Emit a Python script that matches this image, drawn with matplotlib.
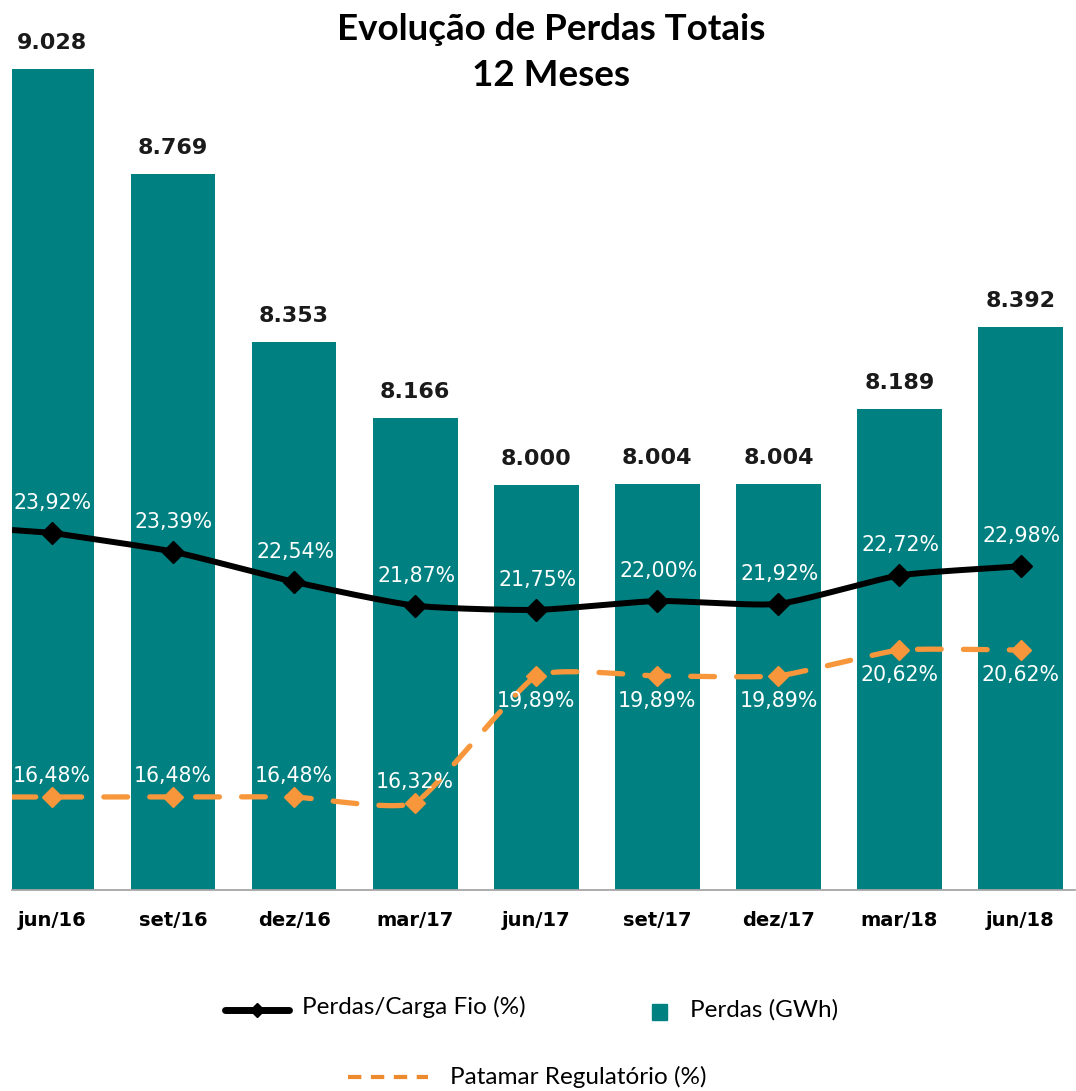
import numpy as np
import matplotlib
matplotlib.use('Agg')
import matplotlib.pyplot as plt
from matplotlib.lines import Line2D
from matplotlib.patches import Rectangle

# data
meses = ['jun/16', 'set/16', 'dez/16', 'mar/17', 'jun/17', 'set/17', 'dez/17', 'mar/18', 'jun/18']
perdas_gwh = [9028, 8769, 8353, 8166, 8000, 8004, 8004, 8189, 8392]
perdas_carga = [23.92, 23.39, 22.54, 21.87, 21.75, 22.00, 21.92, 22.72, 22.98]
patamar = [16.48, 16.48, 16.48, 16.32, 19.89, 19.89, 19.89, 20.62, 20.62]

TEAL = '#008080'
ORANGE = '#F7963A'
W, H = 1076, 1091


def smooth_line(xs, ys, c=0.6, n=24):
    # cardinal spline through the points (a softer Excel-like smoothed line)
    xs = np.asarray(xs, float)
    ys = np.asarray(ys, float)
    px = np.concatenate([[2 * xs[0] - xs[1]], xs, [2 * xs[-1] - xs[-2]]])
    py = np.concatenate([[2 * ys[0] - ys[1]], ys, [2 * ys[-1] - ys[-2]]])
    t = np.linspace(0, 1, n, endpoint=False)
    h00 = 2 * t ** 3 - 3 * t ** 2 + 1
    h10 = t ** 3 - 2 * t ** 2 + t
    h01 = -2 * t ** 3 + 3 * t ** 2
    h11 = t ** 3 - t ** 2
    outx, outy = [], []
    for i in range(1, len(px) - 2):
        for p, out in ((px, outx), (py, outy)):
            m1 = c * (p[i + 1] - p[i - 1]) / 2
            m2 = c * (p[i + 2] - p[i]) / 2
            out.extend(h00 * p[i] + h10 * m1 + h01 * p[i + 1] + h11 * m2)
    outx.append(xs[-1])
    outy.append(ys[-1])
    return np.array(outx), np.array(outy)


fig = plt.figure(figsize=(W / 100, H / 100), dpi=100)
ax = fig.add_axes([12 / W, 1 - 890 / H, (1075 - 12) / W, 890 / H])

x = np.arange(len(meses))
ax.bar(x, perdas_gwh, width=0.7, color=TEAL, zorder=2)
ax.set_xlim(-0.33, 8.45)
ax.set_ylim(7000, 9199)
ax.set_xticks(x)
ax.set_xticklabels(meses, fontweight='bold', fontsize=14, family='DejaVu Sans')
ax.tick_params(axis='x', length=0, pad=15)
ax.set_yticks([])
for s in ['top', 'left', 'right']:
    ax.spines[s].set_visible(False)
ax.spines['bottom'].set_color('#A6A6A6')
ax.spines['bottom'].set_linewidth(1.3)

for xi, v in zip(x, perdas_gwh):
    ax.annotate(f'{v:,}'.replace(',', '.'), (xi, v), xytext=(0, 16),
                textcoords='offset pixels', ha='center', va='bottom',
                fontsize=16, fontweight='bold', color='#1a1a1a')

ax2 = ax.twinx()
ax2.set_ylim(13.86, 38.93)
ax2.set_axis_off()

xmin = ax.get_xlim()[0]

# Perdas/Carga Fio
sx, sy = smooth_line(x, perdas_carga)
ax2.plot([xmin, 0], [perdas_carga[0] + 0.08, perdas_carga[0]], color='black', lw=4.3,
         solid_capstyle='butt')
ax2.plot(sx, sy, color='black', lw=4.3, solid_capstyle='round')
ax2.plot(x, perdas_carga, ls='none', marker='D', ms=11, color='black')

# Patamar Regulatorio
px_, py_ = smooth_line(x, patamar, c=0.45)
px_ = np.concatenate([[xmin], px_])
py_ = np.concatenate([[patamar[0]], py_])
ax2.plot(px_, py_, color=ORANGE, lw=3.8, dashes=(4.5, 4.2), dash_capstyle='round')
ax2.plot(x, patamar, ls='none', marker='D', ms=10, color=ORANGE)

for xi, v in zip(x, perdas_carga):
    ax2.annotate(f'{v:.2f}'.replace('.', ',') + '%', (xi, v), xytext=(1, 30),
                 textcoords='offset pixels', ha='center', va='center',
                 fontsize=14.8, color='white')

for i, (xi, v) in enumerate(zip(x, patamar)):
    dy = 21 if i < 4 else -25
    ax2.annotate(f'{v:.2f}'.replace('.', ',') + '%', (xi, v), xytext=(0, dy),
                 textcoords='offset pixels', ha='center', va='center',
                 fontsize=14.8, color='white')

# title
fig.text(551 / W, 1 - 29 / H, 'Evolução de Perdas Totais', ha='center', va='center',
         fontsize=26.5, fontweight='bold', family='Lato')
fig.text(551 / W, 1 - 76 / H, '12 Meses', ha='center', va='center',
         fontsize=26.5, fontweight='bold', family='Lato')


# legend drawn by hand to match the layout
def fx(px):
    return px / W


def fy(py):
    return 1 - py / H


fig.add_artist(Line2D([fx(225), fx(289)], [fy(1010), fy(1010)], color='black', lw=5,
                      solid_capstyle='round', transform=fig.transFigure))
fig.add_artist(Line2D([fx(257)], [fy(1010)], color='black', marker='D', ms=7,
                      transform=fig.transFigure))
fig.text(fx(302), fy(1007), 'Perdas/Carga Fio (%)', ha='left', va='center', fontsize=17.5,
         family='Lato')
fig.add_artist(Rectangle((fx(652), fy(1020)), 15 / W, 16 / H, color=TEAL,
                         transform=fig.transFigure))
fig.text(fx(690), fy(1010), 'Perdas (GWh)', ha='left', va='center', fontsize=17.5,
         family='Lato')
fig.add_artist(Line2D([fx(348), fx(428)], [fy(1077), fy(1077)], color='#EE8A2E', lw=3,
                      dashes=(3.2, 2.3), transform=fig.transFigure))
fig.text(fx(450), fy(1077), 'Patamar Regulatório (%)', ha='left', va='center', fontsize=17.5,
         family='Lato')

fig.savefig('out.png', dpi=100)
